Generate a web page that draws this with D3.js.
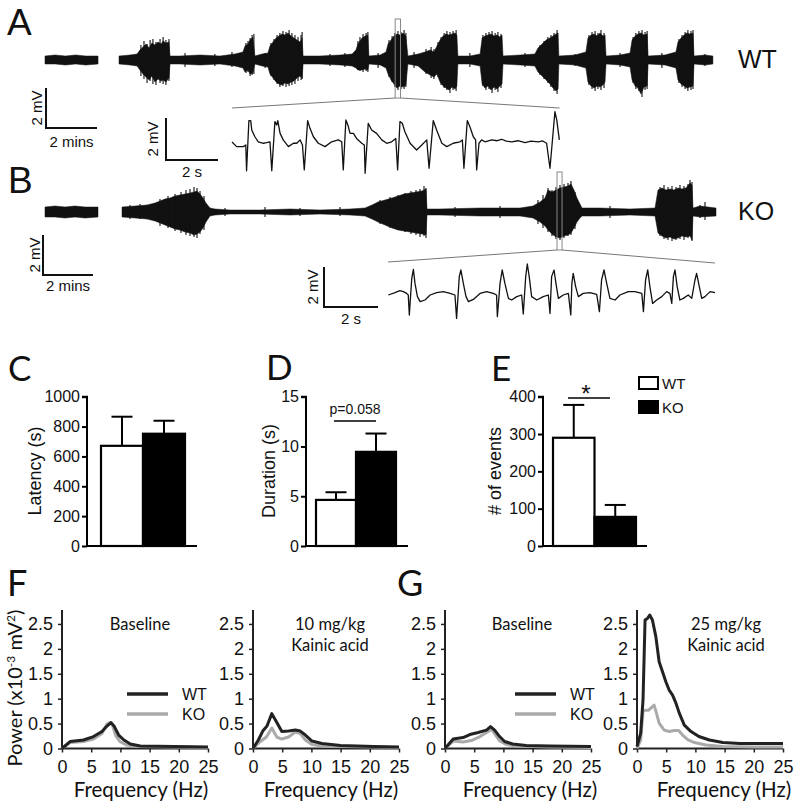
<!DOCTYPE html>
<html><head><meta charset="utf-8">
<script src="https://cdn.jsdelivr.net/npm/d3@7"></script>
<style>
body{margin:0;background:#fff}
text{fill:#111}
.ar{font-family:"Liberation Sans",Arial,sans-serif}
.ca{font-family:Lato,"Open Sans",sans-serif}
</style></head>
<body><svg id="fig" width="799" height="809"></svg>
<script>
// ---------------- DATA ----------------
// EEG envelopes: [time (min), upper (mV), lower (mV)]
const wtBaseline = [[0,0.2,-0.2],[0.4,0.25,-0.2],[0.8,0.2,-0.25],[1.2,0.25,-0.2],[1.6,0.2,-0.25],[2.08,0.2,-0.2]];
const wtKainate = [[0,0.2,-0.2],[0.43,0.25,-0.25],[0.71,0.3,-0.3],[0.82,0.5,-0.5],[0.94,0.65,-0.7],[1.06,0.8,-0.85],[1.18,0.6,-1.0],[1.29,0.85,-0.8],[1.41,0.75,-1.1],[1.53,0.9,-0.95],[1.65,0.8,-1.05],[1.73,0.95,-1.0],[1.84,0.85,-1.1],[1.96,0.9,-0.9],[2.0,0.2,-0.2],[2.39,0.2,-0.2],[3.18,0.25,-0.25],[3.96,0.2,-0.2],[4.55,0.3,-0.3],[4.86,0.4,-0.4],[4.94,0.7,-0.6],[5.06,0.8,-0.5],[5.14,1.0,-0.7],[5.25,1.15,-0.65],[5.33,0.2,-0.2],[5.61,0.3,-0.3],[5.84,0.35,-0.35],[5.92,0.7,-0.7],[6.04,0.9,-0.9],[6.16,1.1,-1.1],[6.27,1.2,-1.2],[6.39,1.3,-1.25],[6.51,1.25,-1.15],[6.63,1.35,-1.2],[6.75,1.2,-1.1],[6.86,1.1,-1.05],[6.98,1.0,-0.9],[7.1,0.9,-0.8],[7.18,1.1,-0.9],[7.22,0.2,-0.2],[7.88,0.2,-0.2],[8.67,0.25,-0.25],[9.14,0.3,-0.3],[9.29,0.5,-0.4],[9.37,0.8,-0.5],[9.53,1.1,-0.5],[9.65,1.2,-0.45],[9.76,1.25,-0.5],[9.8,0.2,-0.2],[10.24,0.25,-0.25],[10.47,0.4,-0.4],[10.55,0.8,-0.7],[10.67,1.0,-1.0],[10.78,1.2,-1.2],[10.9,1.3,-1.4],[11.02,1.25,-1.3],[11.14,1.35,-1.35],[11.25,1.2,-1.25],[11.33,0.2,-0.2],[11.73,0.3,-0.3],[12.0,0.4,-0.6],[12.2,0.5,-0.75],[12.35,0.4,-0.85],[12.47,0.7,-0.7],[12.59,1.0,-1.1],[12.71,1.2,-1.3],[12.82,1.3,-1.4],[12.94,1.25,-1.5],[13.06,1.3,-1.35],[13.18,1.35,-1.45],[13.25,1.25,-1.3],[13.29,0.2,-0.2],[13.76,0.2,-0.2],[14.16,0.3,-0.3],[14.24,1.1,-1.2],[14.35,1.2,-1.4],[14.47,1.25,-1.3],[14.59,1.3,-1.5],[14.71,1.2,-1.35],[14.82,1.25,-1.45],[14.94,1.15,-1.3],[15.02,1.25,-1.2],[15.06,0.2,-0.2],[15.73,0.25,-0.25],[16.31,0.3,-0.3],[16.43,0.6,-0.6],[16.59,0.8,-0.8],[16.75,1.0,-1.0],[16.9,1.1,-1.2],[17.02,1.2,-1.4],[17.14,1.3,-1.55],[17.22,1.35,-1.45],[17.25,0.2,-0.2],[17.88,0.25,-0.25],[18.31,0.4,-0.4],[18.39,1.1,-1.1],[18.51,1.25,-1.3],[18.63,1.3,-1.4],[18.75,1.2,-1.3],[18.86,1.35,-1.35],[18.98,1.2,-1.25],[19.06,1.25,-1.1],[19.1,0.2,-0.2],[19.65,0.25,-0.25],[20.04,0.35,-0.35],[20.12,1.0,-1.0],[20.24,1.2,-1.3],[20.35,1.3,-1.4],[20.47,1.35,-1.7],[20.59,1.25,-1.35],[20.71,1.3,-1.3],[20.75,0.2,-0.2],[21.41,0.25,-0.25],[21.84,0.4,-0.4],[21.92,0.9,-1.0],[22.04,1.1,-1.2],[22.16,1.25,-1.3],[22.27,1.35,-1.4],[22.39,1.3,-1.35],[22.51,1.35,-1.3],[22.55,0.2,-0.2],[22.98,0.25,-0.25],[23.29,0.2,-0.2]];
// individual spikes riding on the envelope: [time (min), peak (mV), trough (mV)]
const wtSpikes = [[0.86,0.75,-0.8],[0.98,0.95,-0.95],[1.1,0.8,-1.15],[1.22,1.0,-1.05],[1.33,1.05,-1.2],[1.45,0.9,-1.25],[1.61,1.05,-1.15],[1.73,1.15,-1.2],[1.84,1.0,-1.25],[1.96,1.05,-1.05],
[4.98,0.85,-0.65],[5.06,0.95,-0.6],[5.14,1.1,-0.8],[5.22,1.25,-0.75],[5.29,1.3,-0.7],
[5.96,0.85,-0.8],[6.08,1.05,-1.0],[6.2,1.25,-1.2],[6.31,1.35,-1.35],[6.43,1.45,-1.3],[6.55,1.4,-1.35],[6.67,1.5,-1.3],[6.78,1.35,-1.25],[6.9,1.25,-1.2],[7.02,1.15,-1.05],[7.14,1.25,-1.0],[7.18,1.4,-0.95],
[9.37,0.95,-0.5],[9.45,1.15,-0.55],[9.57,1.3,-0.6],[9.69,1.35,-0.55],[9.76,1.4,-0.6],
[10.59,1.0,-0.85],[10.71,1.2,-1.1],[10.82,1.35,-1.35],[10.94,1.45,-1.5],[11.06,1.4,-1.45],[11.18,1.5,-1.45],[11.25,1.35,-1.35],
[12.04,0.55,-0.7],[12.24,0.65,-0.9],[12.35,0.55,-0.95],
[12.51,0.9,-0.85],[12.63,1.15,-1.25],[12.75,1.35,-1.4],[12.86,1.45,-1.5],[12.98,1.4,-1.65],[13.1,1.45,-1.5],[13.22,1.5,-1.55],
[14.27,1.25,-1.3],[14.39,1.35,-1.5],[14.51,1.4,-1.45],[14.63,1.45,-1.65],[14.75,1.35,-1.5],[14.86,1.4,-1.6],[14.98,1.3,-1.4],
[16.51,0.75,-0.75],[16.67,0.95,-0.95],[16.82,1.15,-1.15],[16.94,1.25,-1.35],[17.06,1.35,-1.55],[17.18,1.5,-1.7],
[18.43,1.25,-1.25],[18.55,1.4,-1.45],[18.67,1.45,-1.55],[18.78,1.35,-1.45],[18.9,1.5,-1.5],[19.02,1.35,-1.4],
[20.16,1.15,-1.15],[20.27,1.35,-1.45],[20.39,1.45,-1.55],[20.51,1.5,-1.85],[20.63,1.4,-1.5],[20.71,1.45,-1.45],
[21.96,1.05,-1.15],[22.08,1.25,-1.35],[22.2,1.4,-1.45],[22.31,1.5,-1.55],[22.43,1.45,-1.5],[22.51,1.5,-1.45],
[2.59,0.35,-0.35],[3.76,0.3,-0.3],[4.43,0.4,-0.35],[5.73,0.35,-0.4],[8.27,0.3,-0.3],[8.86,0.35,-0.35],[10.16,0.35,-0.4],[11.57,0.4,-0.4],[13.76,0.35,-0.35],[15.92,0.35,-0.35],[17.88,0.3,-0.3],[19.65,0.35,-0.35],[21.29,0.35,-0.4],[22.98,0.3,-0.3]];
const koBaseline = [[0,0.25,-0.25],[0.4,0.3,-0.25],[0.8,0.25,-0.3],[1.2,0.3,-0.25],[1.6,0.25,-0.3],[2.12,0.25,-0.25]];
const koKainate = [[0,0.25,-0.25],[0.52,0.3,-0.3],[1.0,0.35,-0.35],[1.32,0.45,-0.45],[1.52,0.55,-0.55],[1.72,0.65,-0.65],[1.92,0.7,-0.75],[2.12,0.8,-0.85],[2.32,0.85,-0.9],[2.52,0.9,-1.0],[2.72,0.95,-1.05],[2.88,1.0,-1.15],[3.0,1.05,-1.1],[3.12,0.9,-1.0],[3.24,0.7,-0.8],[3.36,0.45,-0.5],[3.52,0.2,-0.2],[3.72,0.15,-0.15],[4.32,0.1,-0.1],[5.52,0.1,-0.1],[6.72,0.15,-0.15],[7.92,0.1,-0.1],[9.12,0.15,-0.15],[9.72,0.2,-0.2],[10.0,0.35,-0.35],[10.24,0.5,-0.5],[10.52,0.6,-0.65],[10.8,0.7,-0.8],[11.04,0.8,-0.9],[11.28,0.9,-0.95],[11.52,0.95,-1.0],[11.76,1.0,-1.05],[12.0,1.05,-1.1],[12.16,1.15,-1.15],[12.2,0.15,-0.15],[12.72,0.15,-0.15],[14.32,0.2,-0.2],[15.92,0.2,-0.2],[16.44,0.3,-0.3],[16.72,0.5,-0.5],[16.92,0.7,-0.7],[17.04,1.1,-0.9],[17.2,1.0,-1.1],[17.36,1.1,-1.25],[17.52,1.2,-1.3],[17.68,1.25,-1.2],[17.84,1.3,-1.15],[17.96,1.4,-1.05],[18.08,1.1,-0.8],[18.2,0.7,-0.5],[18.32,0.4,-0.3],[18.4,0.2,-0.2],[19.12,0.2,-0.2],[20.32,0.15,-0.15],[21.32,0.2,-0.2],[21.44,1.1,-1.05],[21.6,1.2,-1.2],[21.76,1.1,-1.3],[21.92,1.15,-1.25],[22.08,1.1,-1.35],[22.24,1.2,-1.3],[22.4,1.15,-1.2],[22.56,1.2,-1.25],[22.72,1.45,-1.2],[22.8,1.35,-1.4],[22.84,0.2,-0.2],[23.12,0.3,-0.25],[23.76,0.2,-0.2]];
const koSpikes = [[1.52,0.65,-0.7],[1.84,0.8,-0.8],[2.12,0.9,-0.95],[2.36,1.0,-1.05],[2.56,1.1,-1.15],[2.72,1.15,-1.2],[2.88,1.25,-1.25],[3.0,1.2,-1.3],[3.12,1.05,-1.1],[3.28,0.8,-0.9],
[10.32,0.6,-0.6],[10.72,0.75,-0.8],[11.04,0.85,-0.9],[11.32,0.95,-1.0],[11.56,1.05,-1.1],[11.76,1.1,-1.15],[11.92,1.15,-1.25],[12.08,1.3,-1.2],[12.16,1.2,-1.3],
[16.64,0.6,-0.6],[16.84,0.85,-0.8],[17.04,1.2,-1.0],[17.2,1.1,-1.2],[17.36,1.25,-1.35],[17.52,1.35,-1.4],[17.68,1.4,-1.3],[17.84,1.45,-1.2],[17.96,1.55,-1.15],[18.12,1.0,-0.85],
[21.52,1.25,-1.2],[21.68,1.35,-1.35],[21.84,1.25,-1.4],[22.0,1.3,-1.45],[22.16,1.25,-1.4],[22.32,1.35,-1.35],[22.48,1.3,-1.4],[22.64,1.4,-1.3],[22.72,1.6,-1.2],[22.8,1.5,-1.45],
[0.32,0.35,-0.35],[0.72,0.4,-0.35],[4.12,0.2,-0.2],[5.72,0.25,-0.25],[7.12,0.2,-0.2],[8.72,0.25,-0.2],[13.32,0.25,-0.25],[15.12,0.3,-0.3],[19.52,0.3,-0.3],[23.12,0.35,-0.3],[23.32,0.5,-0.4]];
// expanded traces: [time (s), mV]
const wtZoom = [[0,0],[0.18,-0.22],[0.44,-0.22],[0.53,-0.14],[0.56,-1.37],[0.65,1.02],[0.72,1.02],[0.76,0.57],[0.88,0.25],[1.01,0.01],[1.21,-0.06],[1.33,-0.03],[1.46,0.01],[1.53,-1.37],[1.65,0.97],[1.72,0.81],[1.76,1.02],[1.85,0.41],[1.97,0.1],[2.17,-0.22],[2.36,-0.06],[2.49,-0.06],[2.62,0.1],[2.71,-0.14],[2.78,-1.33],[2.91,1.02],[3.0,0.65],[3.13,0.25],[3.32,-0.06],[3.58,-0.22],[3.83,0.01],[4.09,0.1],[4.22,0.01],[4.28,-1.33],[4.38,1.05],[4.47,0.76],[4.54,0.41],[4.67,0.41],[4.79,0.17],[4.99,-0.06],[5.09,-0.14],[5.12,-1.49],[5.24,0.89],[5.37,0.57],[5.56,0.41],[5.76,0.1],[5.95,-0.06],[6.14,0.01],[6.3,0.17],[6.37,-1.33],[6.46,0.97],[6.55,0.89],[6.65,0.49],[6.85,-0.06],[7.1,-0.38],[7.3,-0.14],[7.49,0.1],[7.58,-1.25],[7.74,1.02],[7.87,0.57],[8.07,-0.06],[8.26,-0.22],[8.51,-0.06],[8.77,0.01],[8.86,0.1],[8.92,-1.25],[9.05,1.02],[9.15,0.73],[9.28,0.25],[9.37,0.1],[9.41,-1.33],[9.5,-0.06],[9.6,0.1],[9.73,0.01],[9.99,0.1],[10.2,0.06],[10.37,0.13],[10.55,0.04],[10.76,0.01],[11.0,0.06],[11.27,-0.03],[11.5,0.04],[11.78,0.01],[11.95,0.05],[12.1,-0.06],[12.23,-1.25],[12.42,1.44],[12.49,1.05],[12.59,0.1]];
const koZoom = [[0.01,-0.15],[0.26,-0.03],[0.44,0.07],[0.57,0.02],[0.69,-0.07],[0.75,-0.15],[0.79,-1.15],[0.88,0.68],[0.94,1.13],[1.0,0.43],[1.09,-0.23],[1.19,-0.48],[1.37,-0.4],[1.56,-0.15],[1.8,-0.03],[2.05,0.02],[2.3,-0.07],[2.48,-0.15],[2.54,-1.32],[2.64,0.77],[2.7,1.1],[2.79,0.43],[2.89,-0.23],[2.98,-0.48],[3.16,-0.37],[3.41,-0.07],[3.65,0.02],[3.9,-0.07],[4.02,-0.15],[4.05,-1.23],[4.15,0.43],[4.23,1.1],[4.33,0.43],[4.46,-0.32],[4.58,-0.4],[4.77,-0.23],[4.95,-0.15],[5.01,-1.1],[5.1,0.77],[5.16,1.4],[5.23,0.77],[5.32,-0.23],[5.51,-0.4],[5.75,-0.23],[5.94,-0.15],[6.0,-1.07],[6.06,0.77],[6.15,1.1],[6.22,0.43],[6.31,-0.32],[6.49,-0.15],[6.68,-0.07],[6.77,-1.15],[6.81,0.43],[6.86,0.93],[6.95,0.27],[7.05,-0.23],[7.23,-0.07],[7.48,-0.03],[7.73,-0.12],[7.83,-0.98],[7.91,0.6],[8.0,1.1],[8.1,0.43],[8.22,-0.32],[8.41,-0.4],[8.59,-0.15],[8.9,0.02],[9.15,0.02],[9.4,-0.07],[9.46,-0.98],[9.54,0.6],[9.62,1.1],[9.7,0.27],[9.8,-0.57],[9.95,-0.4],[10.14,-0.23],[10.32,0.02],[10.44,-0.07],[10.51,-0.57],[10.57,0.77],[10.63,1.1],[10.71,0.27],[10.81,-0.4],[10.94,-0.32],[11.12,-0.15],[11.25,-0.32],[11.37,0.6],[11.43,0.93],[11.53,0.27],[11.62,-0.32],[11.74,-0.23],[11.93,0.02],[12.11,-0.03]];

// bar panels
const groups = ["WT", "KO"];
const latencyMean = [671, 752], latencySEM = [195, 87], latencyTicks = [0,200,400,600,800,1000];
const durationMean = [4.63, 9.46], durationSEM = [0.77, 1.84], durationTicks = [0,5,10,15];
const eventsMean = [290, 78], eventsSEM = [88, 32], eventsTicks = [0,100,200,300,400];

// power spectra: [frequency (Hz), power (x10^-3 mV^2)]
const fBaseWT = [[0,0],[1.38,0.14],[3.68,0.17],[5.4,0.24],[6.84,0.34],[7.7,0.45],[8.4,0.52],[8.97,0.44],[9.7,0.27],[10.6,0.17],[11.7,0.09],[13.4,0.05],[19.2,0.04],[25,0.03]];
const fBaseKO = [[0,0],[1.38,0.12],[3.68,0.14],[5.4,0.19],[6.84,0.3],[7.7,0.49],[8.2,0.52],[8.6,0.48],[9.2,0.26],[9.9,0.14],[11.0,0.07],[13.4,0.04],[25,0.02]];
const fKA10WT = [[0,0],[0.92,0.17],[1.67,0.35],[2.4,0.45],[3.22,0.7],[4.08,0.52],[4.94,0.34],[6.09,0.35],[7.24,0.37],[8.1,0.35],[8.97,0.27],[10.1,0.15],[11.8,0.1],[15,0.06],[20.7,0.04],[25,0.03]];
const fKA10KO = [[0,0],[1.15,0.13],[2.3,0.23],[3.22,0.41],[4.08,0.23],[4.94,0.19],[6.09,0.23],[7.24,0.33],[8.1,0.3],[8.97,0.17],[10.1,0.08],[11.8,0.05],[20.7,0.03],[25,0.02]];
const gBaseWT = [[0,0],[1.4,0.19],[3.1,0.22],[4.25,0.28],[5.67,0.32],[7.1,0.37],[7.8,0.44],[8.5,0.37],[9.35,0.24],[10.2,0.14],[11.6,0.09],[13.9,0.06],[17.9,0.05],[25,0.04]];
const gBaseKO = [[0,0],[1.4,0.15],[3.1,0.13],[4.5,0.16],[6.0,0.24],[7.4,0.34],[8.0,0.38],[8.5,0.3],[9.35,0.15],[10.5,0.08],[12.2,0.05],[17.9,0.03],[25,0.02]];
const gKA25WT = [[0,0.04],[0.63,0.31],[1.03,0.97],[1.38,2.58],[1.78,2.61],[2.18,2.68],[2.64,2.58],[3.22,2.25],[3.79,1.74],[4.37,1.54],[4.94,1.34],[5.52,1.17],[6.09,1.07],[6.67,0.91],[7.24,0.71],[8.1,0.47],[9.25,0.34],[10.6,0.24],[12.4,0.17],[14.7,0.12],[17.6,0.1],[21,0.1],[25,0.1]];
const gKA25KO = [[0,0],[0.63,0.17],[1.03,0.74],[1.38,0.77],[2.0,0.77],[2.64,0.84],[2.93,0.87],[3.33,0.71],[3.79,0.51],[4.66,0.37],[5.52,0.34],[6.38,0.36],[7.13,0.36],[7.82,0.27],[8.68,0.18],[9.83,0.12],[11.8,0.07],[14.7,0.04],[19.9,0.03],[25,0.03]];
const powerTicks = [0,0.5,1,1.5,2,2.5];
const freqTicks = [0,5,10,15,20,25];

// ---------------- DRAW ----------------
const svg = d3.select("#fig");
const INK = "#111";

function txt(x, y, s, size, cls, anchor, rot) {
  const t = svg.append("text").attr("class", cls).attr("font-size", size)
    .attr("text-anchor", anchor || "start").text(s);
  if (rot) t.attr("transform", `translate(${x},${y}) rotate(-90)`);
  else t.attr("x", x).attr("y", y);
  return t;
}
function line(x1, y1, x2, y2, w, c) {
  svg.append("line").attr("x1", x1).attr("y1", y1).attr("x2", x2).attr("y2", y2)
    .attr("stroke", c || INK).attr("stroke-width", w || 2);
}
function envelope(data, xs, ys) {
  const area = d3.area().x(d => xs(d[0])).y0(d => ys(d[2])).y1(d => ys(d[1]));
  svg.append("path").datum(data).attr("d", area).attr("fill", INK)
    .attr("stroke", INK).attr("stroke-width", 0.5).attr("stroke-linejoin", "round");
}
function spikes(data, xs, ys) {
  svg.append("g").selectAll("line").data(data).join("line")
    .attr("x1", d => xs(d[0])).attr("x2", d => xs(d[0]))
    .attr("y1", d => ys(d[1])).attr("y2", d => ys(d[2]))
    .attr("stroke", INK).attr("stroke-width", 1.1);
}
function trace(data, xs, ys) {
  svg.append("path").datum(data).attr("d", d3.line().x(d => xs(d[0])).y(d => ys(d[1])))
    .attr("fill", "none").attr("stroke", INK).attr("stroke-width", 1.3).attr("stroke-linejoin", "round");
}
function scaleBar(x, yTop, xs, ys, tUnits, vUnits, tLabel, vLabel, vLabX, tLabY) {
  const len = xs(tUnits) - xs(0), h = ys(0) - ys(vUnits);
  svg.append("path").attr("d", `M${x},${yTop}V${yTop + h}H${x + len}`)
    .attr("fill", "none").attr("stroke", INK).attr("stroke-width", 2);
  txt(vLabX, yTop + h / 2, vLabel, 15, "ar", "middle", true);
  txt(x + len / 2, tLabY, tLabel, 15, "ar", "middle");
}

// --- Panel A ---
txt(7, 35, "A", 37, "ar");
const xAb = d3.scaleLinear().domain([0, 1]).range([45, 70.5]);
const xA = d3.scaleLinear().domain([0, 1]).range([119, 144.5]);
const yA = d3.scaleLinear().domain([-1, 1]).range([80, 40]);
envelope(wtBaseline, xAb, yA);
envelope(wtKainate, xA, yA);
spikes(wtSpikes, xA, yA);
txt(738, 68, "WT", 25, "ar");
scaleBar(46, 88, xA, yA, 2, 2, "2 mins", "2 mV", 42, 147);
const xAi = d3.scaleLinear().domain([0, 1]).range([232, 258]);
const yAi = d3.scaleLinear().domain([-1, 1]).range([163, 121]);
const tA0 = 10.83, tA1 = tA0 + 12.6 / 60;
svg.append("rect").attr("x", xA(tA0)).attr("y", 19).attr("width", xA(tA1) - xA(tA0)).attr("height", 79)
  .attr("fill", "none").attr("stroke", "#888").attr("stroke-width", 1);
line(xA(tA0), 98, xAi(0), 108, 1, "#777");
line(xA(tA1), 98, xAi(12.6), 108, 1, "#777");
trace(wtZoom, xAi, yAi);
scaleBar(166, 118, xAi, yAi, 2, 2, "2 s", "2 mV", 158, 177);

// --- Panel B ---
txt(8, 193, "B", 37, "ar");
const xBb = d3.scaleLinear().domain([0, 1]).range([45, 70]);
const xB = d3.scaleLinear().domain([0, 1]).range([122, 147]);
const yB = d3.scaleLinear().domain([-1, 1]).range([232, 192]);
envelope(koBaseline, xBb, yB);
envelope(koKainate, xB, yB);
spikes(koSpikes, xB, yB);
txt(738, 220, "KO", 25, "ar");
scaleBar(43, 235, xB, yB, 2, 2, "2 mins", "2 mV", 40, 291);
const xBi = d3.scaleLinear().domain([0, 1]).range([388, 415]);
const yBi = d3.scaleLinear().domain([-1, 1]).range([312, 272]);
const tB0 = 17.4, tB1 = tB0 + 12.11 / 60;
svg.append("rect").attr("x", xB(tB0)).attr("y", 172).attr("width", xB(tB1) - xB(tB0)).attr("height", 78)
  .attr("fill", "none").attr("stroke", "#888").attr("stroke-width", 1);
line(xB(tB0), 250, xBi(0), 262, 1, "#777");
line(xB(tB1), 250, xBi(12.11), 263, 1, "#777");
trace(koZoom, xBi, yBi);
scaleBar(324, 267, xBi, yBi, 2, 2, "2 s", "2 mV", 318, 324);

// --- Bar panels C, D, E ---
function barPanel(axisX, axisEnd, band, yMax, ticks, mean, sem, title, titleX) {
  const y = d3.scaleLinear().domain([0, yMax]).range([546, 396.7]);
  const x = d3.scaleBand().domain(groups).range(band);
  const g = svg.append("g");
  groups.forEach((k, i) => {
    const cx = x(k) + x.bandwidth() / 2;
    g.append("line").attr("x1", cx).attr("x2", cx).attr("y1", y(mean[i])).attr("y2", y(mean[i] + sem[i]))
      .attr("stroke", "#000").attr("stroke-width", 2);
    g.append("line").attr("x1", cx - 10.5).attr("x2", cx + 10.5).attr("y1", y(mean[i] + sem[i])).attr("y2", y(mean[i] + sem[i]))
      .attr("stroke", "#000").attr("stroke-width", 2);
  });
  g.selectAll("rect").data(groups).join("rect")
    .attr("x", d => x(d)).attr("width", x.bandwidth())
    .attr("y", (d, i) => y(mean[i])).attr("height", (d, i) => y(0) - y(mean[i]))
    .attr("fill", (d, i) => i ? "#000" : "#fff").attr("stroke", "#000").attr("stroke-width", 2.2);
  const ax = g.append("g").attr("transform", `translate(${axisX},0)`)
    .call(d3.axisLeft(y).tickValues(ticks).tickSize(5).tickPadding(2).tickFormat(d3.format("d")));
  ax.select(".domain").attr("stroke", "#000").attr("stroke-width", 2).attr("d", `M-5,${y(yMax)}H0V${y(0)}`);
  ax.selectAll(".tick line").attr("stroke", "#000").attr("stroke-width", 2);
  ax.selectAll(".tick text").attr("class", "ar").attr("font-size", 16).attr("fill", "#111");
  line(axisX, y(0), axisEnd, y(0), 2, "#000");
  txt(titleX, 471, title, 18, "ar", "middle", true);
  return { x, y };
}
txt(8, 381, "C", 35, "ca");
barPanel(87, 197, [101, 185], 1000, latencyTicks, latencyMean, latencySEM, "Latency (s)", 41);
txt(266, 380, "D", 35, "ca");
barPanel(306, 408, [316, 396], 15, durationTicks, durationMean, durationSEM, "Duration (s)", 275);
line(334, 421, 376, 421, 1.5, "#000");
txt(355, 414, "p=0.058", 14, "ar", "middle");
txt(491, 381, "E", 35, "ca");
barPanel(543, 647, [553, 636], 400, eventsTicks, eventsMean, eventsSEM, "# of events", 501);
line(568, 398, 610, 398, 1.5, "#000");
txt(586, 402, "*", 24, "ar", "middle");
[["WT", "#fff", 377], ["KO", "#000", 401]].forEach(([k, f, yy]) => {
  svg.append("rect").attr("x", 639).attr("y", yy).attr("width", 19).attr("height", 12)
    .attr("fill", f).attr("stroke", "#000").attr("stroke-width", 2);
  txt(662, yy + 12, k, 15, "ar");
});

// --- Spectra F, G ---
function spectrum(x0, wt, ko, labels, labelX, legend, freqX) {
  const x = d3.scaleLinear().domain([0, 25]).range([x0, x0 + 146]);
  const y = d3.scaleLinear().domain([0, 2.78]).range([748.5, 610]);
  const g = svg.append("g");
  const ay = g.append("g").attr("transform", `translate(${x0},0)`)
    .call(d3.axisLeft(y).tickValues(powerTicks).tickSize(4).tickPadding(5).tickFormat(d => String(d)));
  const axb = g.append("g").attr("transform", `translate(0,${y(0)})`)
    .call(d3.axisBottom(x).tickValues(freqTicks).tickSize(4).tickPadding(8));
  [ay, axb].forEach(a => {
    a.select(".domain").attr("stroke", "#222").attr("stroke-width", 2);
    a.selectAll(".tick line").attr("stroke", "#222").attr("stroke-width", 1.5);
    a.selectAll(".tick text").attr("class", "ar").attr("font-size", 18).attr("fill", "#111");
  });
  ay.select(".domain").attr("d", `M0,${y(2.78)}V${y(0)}`);
  axb.select(".domain").attr("d", `M${x(0)},0H${x(25)}`);
  const ln = d3.line().x(d => x(d[0])).y(d => y(d[1]));
  g.append("path").datum(ko).attr("d", ln).attr("fill", "none").attr("stroke", "#aaa").attr("stroke-width", 3).attr("stroke-linejoin", "round");
  g.append("path").datum(wt).attr("d", ln).attr("fill", "none").attr("stroke", "#222").attr("stroke-width", 3).attr("stroke-linejoin", "round");
  labels.forEach((s, i) => txt(labelX, 630 + i * 21, s, 16.5, "ca", "middle"));
  if (legend) {
    line(legend, 694, legend + 41, 694, 3.5, "#222");
    line(legend, 714, legend + 41, 714, 3.5, "#aaa");
    txt(legend + 55, 700, "WT", 16, "ar");
    txt(legend + 55, 720, "KO", 16, "ar");
  }
  txt(freqX, 797, "Frequency (Hz)", 20.5, "ca", "middle");
}
txt(7, 596, "F", 36, "ca");
txt(397, 596, "G", 36, "ca");
spectrum(62, fBaseWT, fBaseKO, ["Baseline"], 140, 127, 141);
spectrum(253, fKA10WT, fKA10KO, ["10 mg/kg", "Kainic acid"], 330, null, 331);
spectrum(445, gBaseWT, gBaseKO, ["Baseline"], 522, 515, 530);
spectrum(637, gKA25WT, gKA25KO, ["25 mg/kg", "Kainic acid"], 726, null, 724);
const yt = svg.append("text").attr("class", "ca").attr("font-size", 20).attr("text-anchor", "middle")
  .attr("transform", "translate(22,688) rotate(-90)");
yt.append("tspan").text("Power (x10");
yt.append("tspan").attr("font-size", 12).attr("dy", -7).text("-3");
yt.append("tspan").attr("dy", 7).text(" mV");
yt.append("tspan").attr("font-size", 12).attr("dy", -7).text("2");
yt.append("tspan").attr("dy", 7).text(")");
</script></body></html>
